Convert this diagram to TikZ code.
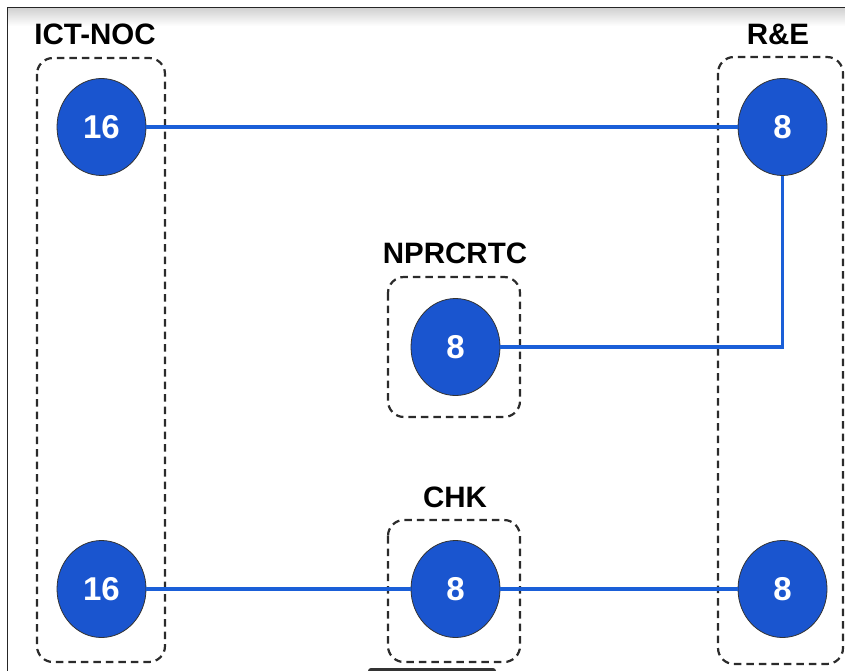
\documentclass[tikz,border=0pt]{standalone}
\usepackage{fontspec}
\setmainfont{Liberation Sans}
\usetikzlibrary{shapes.geometric}

\definecolor{sitefill}{HTML}{1A55CF}
\definecolor{linkblue}{HTML}{1A5FD8}
\definecolor{boxgray}{HTML}{2B2B2B}

\def\ictbox{(37,58) rectangle (165,662)}
\def\rebox{(718,57) rectangle (843,664)}
\def\nprbox{(388,277) rectangle (520,417)}
\def\chkbox{(388,520) rectangle (520,662)}

\tikzset{
  site/.style={ellipse, draw=black!80, line width=0.8pt, fill=sitefill,
    minimum width=89pt, minimum height=97pt, inner sep=0pt,
    text=white, font=\fontsize{33}{38}\selectfont\bfseries},
  grouplabel/.style={font=\fontsize{29.5}{34}\selectfont\bfseries, inner sep=0pt},
  groupbox/.style={draw=boxgray, line width=2.2pt, dash pattern=on 7.5pt off 5pt,
    rounded corners=16pt},
  link/.style={draw=linkblue, line width=3.5pt}
}

\begin{document}
\begin{tikzpicture}[x=1pt,y=-1pt]
\useasboundingbox (0,0) rectangle (845,671);
% screenshot frame
\shade[top color=black!18, bottom color=white] (8,8) rectangle (845,26);
\draw[black!85, line width=1.2pt] (7.5,671) |- (845,7.5);
\fill[black!80, rounded corners=3pt] (368,668) rectangle (496,675);

% group boxes
\begin{scope}[groupbox]
  \draw \ictbox;
  \draw \rebox;
  \draw \nprbox;
  \draw \chkbox;
\end{scope}

\node[grouplabel] (ictlabel) at (95,34) {ICT-NOC};
\node[grouplabel] (relabel) at (778,34) {R\&E};
\node[grouplabel] (nprlabel) at (455,253) {NPRCRTC};
\node[grouplabel] (chklabel) at (455,497) {CHK};

% sites
\node[site] (icttop) at (101.5,127) {16};
\node[site] (ictbot) at (101.5,589) {16};
\node[site] (retop) at (782.5,127) {8};
\node[site] (rebot) at (782.5,589) {8};
\node[site] (npr) at (455.5,347) {8};
\node[site] (chk) at (455.5,589) {8};

% links
\draw[link] (icttop) -- (retop);
\draw[link] (retop) |- (npr);
\draw[link] (ictbot) -- (chk);
\draw[link] (chk) -- (rebot);
\end{tikzpicture}
\end{document}
